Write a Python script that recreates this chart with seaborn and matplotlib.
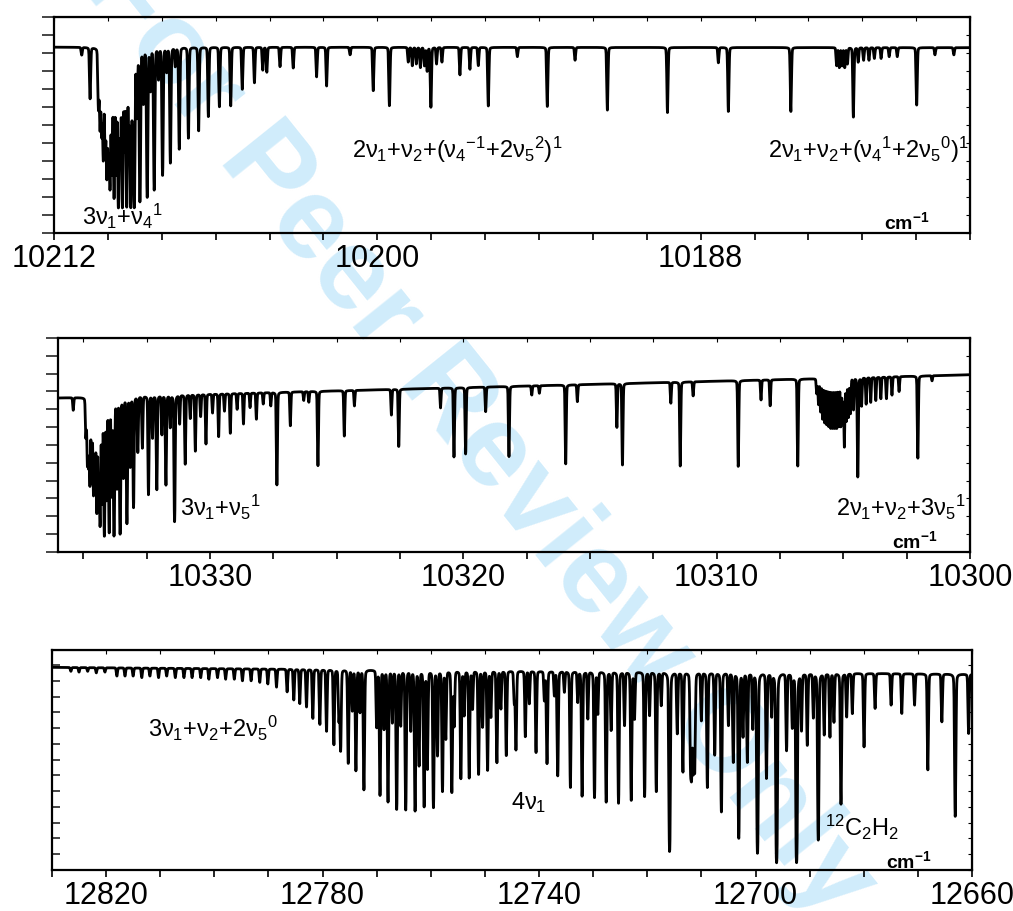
import numpy as np
import pandas as pd
import matplotlib
matplotlib.use("Agg")
import matplotlib.pyplot as plt
from matplotlib.ticker import MultipleLocator, NullFormatter
import seaborn as sns

# ---- panel 1 : 10212 - 10178 cm-1 (line centre, transmission level at line bottom)
nu_p1 = [10210.97, 10210.66, 10210.35, 10210.29, 10210.23, 10210.17, 10210.10, 10210.04,
         10209.98, 10209.92, 10209.85, 10209.77, 10209.69, 10209.61, 10209.54, 10209.46,
         10209.38, 10209.30, 10209.22, 10209.15, 10209.08, 10209.02, 10208.92, 10208.81,
         10208.68, 10208.54, 10208.42, 10208.28, 10208.12, 10207.97, 10207.82, 10207.68,
         10207.50, 10207.35, 10207.01, 10206.63, 10206.27, 10205.86, 10205.44, 10205.01,
         10204.56, 10204.25, 10204.10, 10203.61, 10203.12, 10202.25, 10201.88, 10201.01,
         10200.15, 10199.55, 10198.85, 10198.70, 10198.55, 10198.40, 10198.25, 10198.15,
         10198.01, 10197.80, 10197.60, 10196.93, 10196.56, 10196.25, 10195.88, 10194.80,
         10193.69, 10192.66, 10191.46, 10189.23, 10187.34, 10186.97, 10184.65, 10182.95,
         10182.85, 10182.75, 10182.65, 10182.55, 10182.33, 10182.15, 10181.95, 10181.75,
         10181.55, 10181.30, 10181.00, 10180.70, 10179.98, 10179.30, 10178.60]
lev_p1 = [9.9, 7.48, 7.0, 5.9, 5.6, 4.2, 4.6, 3.2,
          3.8, 2.57, 3.4, 2.0, 3.4, 1.46, 4.0, 1.46,
          4.8, 1.5, 5.4, 1.46, 6.0, 1.46, 6.6, 1.74,
          7.3, 2.0, 8.0, 2.4, 8.6, 3.2, 9.0, 3.9,
          9.3, 4.65, 5.26, 5.67, 6.46, 7.02, 7.07, 7.98,
          8.35, 9.05, 8.94, 9.24, 9.17, 8.67, 8.17, 9.9,
          7.9, 7.06, 9.5, 9.3, 9.4, 9.2, 9.3, 9.0,
          6.98, 9.4, 9.5, 8.78, 9.1, 9.3, 7.06, 9.8,
          7.02, 9.6, 6.83, 6.68, 9.46, 6.74, 6.74, 9.3,
          9.2, 9.3, 9.2, 9.4, 6.43, 9.5, 9.6, 9.6,
          9.7, 9.7, 9.8, 9.8, 7.11, 9.9, 9.9]
cont_p1 = [10.33, 10.30]

# ---- panel 2 : 10336 - 10300 cm-1
nu_p2 = [10335.40, 10334.90, 10334.84, 10334.79, 10334.74, 10334.67, 10334.60, 10334.54,
         10334.47, 10334.40, 10334.34, 10334.26, 10334.17, 10334.08, 10333.98, 10333.88,
         10333.79, 10333.67, 10333.55, 10333.42, 10333.28, 10333.15, 10333.02, 10332.85,
         10332.67, 10332.43, 10332.27, 10332.10, 10331.90, 10331.74, 10331.57, 10331.40,
         10331.20, 10330.98, 10330.78, 10330.58, 10330.37, 10330.16, 10329.90, 10329.66,
         10329.43, 10329.20, 10328.93, 10328.68, 10328.42, 10328.17, 10327.90, 10327.60,
         10327.36, 10326.83, 10326.30, 10326.10, 10325.74, 10324.70, 10324.30, 10322.84,
         10322.55, 10320.90, 10320.37, 10319.91, 10319.12, 10318.20, 10317.30, 10317.00,
         10315.96, 10315.50, 10313.94, 10313.72, 10311.81, 10311.44, 10310.93, 10309.15,
         10308.25, 10307.89, 10306.80, 10306.05, 10305.98, 10305.90, 10305.82, 10305.74,
         10305.66, 10305.58, 10305.50, 10305.42, 10305.34, 10305.26, 10305.18, 10305.10,
         10305.03, 10304.96, 10304.88, 10304.80, 10304.72, 10304.60, 10304.43, 10304.28,
         10304.10, 10303.92, 10303.72, 10303.52, 10303.30, 10303.08, 10302.80, 10302.06,
         10301.50]
lev_p2 = [7.96, 6.5, 4.99, 5.0, 3.87, 4.0, 3.3, 3.5,
          2.24, 3.0, 1.5, 2.8, 0.9, 3.0, 1.1, 3.2,
          0.9, 3.6, 1.0, 4.2, 1.6, 4.8, 2.5, 5.6,
          5.83, 3.2, 6.4, 3.5, 6.6, 3.76, 7.0, 1.7,
          7.2, 4.93, 7.5, 5.66, 7.6, 6.06, 7.8, 6.47,
          7.9, 6.66, 8.0, 7.18, 8.1, 7.44, 8.3, 8.2,
          3.76, 7.07, 8.5, 8.4, 4.84, 6.5, 8.19, 7.68,
          5.9, 8.08, 5.31, 5.48, 7.87, 5.35, 8.8, 8.9,
          4.94, 8.43, 6.99, 4.88, 8.34, 4.82, 8.75, 4.78,
          8.52, 8.19, 4.82, 8.9, 8.3, 7.9, 7.5, 7.3,
          7.2, 7.1, 7.0, 7.0, 7.0, 7.0, 7.1, 7.1,
          7.3, 5.94, 7.4, 7.6, 7.8, 8.0, 4.19, 8.2,
          8.3, 8.4, 8.5, 8.6, 8.6, 8.8, 9.0, 5.26,
          9.6]
cont_p2 = [8.64, 9.94]

# ---- panel 3 : 12830 - 12660 cm-1
nu_p3 = [12826.5, 12825.0, 12823.4, 12821.8, 12820.2,
         12818.0, 12816.5, 12815.0, 12813.4, 12811.9, 12810.3, 12808.8, 12807.2,
         12805.6, 12804.1, 12802.5, 12801.0, 12799.4, 12797.9, 12796.3, 12794.8,
         12793.2, 12791.6, 12790.1, 12788.5,
         12786.54, 12785.31, 12784.20, 12782.96, 12781.79, 12780.49, 12779.26, 12777.90,
         12776.97, 12776.66, 12775.25, 12774.50, 12773.83, 12773.08, 12772.35, 12770.00,
         12769.38, 12768.64, 12767.90, 12767.10, 12766.30, 12765.55, 12764.63, 12763.70,
         12762.90, 12762.16, 12761.23, 12760.62, 12759.51, 12758.76, 12757.84, 12757.22,
         12756.11, 12755.68, 12754.44, 12753.83, 12752.90, 12752.28, 12751.17, 12750.43,
         12749.50, 12748.89, 12747.78, 12747.04, 12746.05, 12744.57, 12744.26, 12742.53,
         12741.79, 12740.55, 12739.01, 12738.52, 12737.16, 12736.54, 12735.31, 12734.20,
         12732.84, 12732.04, 12730.98, 12729.75, 12729.13, 12727.59, 12726.67, 12725.31,
         12724.20, 12722.96, 12722.35, 12720.49, 12719.57, 12718.33, 12717.41, 12715.87,
         12714.45, 12713.40, 12712.00, 12711.80, 12711.50, 12711.23, 12710.00, 12708.89,
         12707.53, 12706.30, 12705.00, 12704.10, 12703.09, 12702.30, 12701.50, 12700.50,
         12699.63, 12697.97, 12697.00, 12696.10, 12694.26, 12693.20, 12692.41, 12691.50,
         12690.43, 12689.30, 12688.40, 12687.30, 12686.24, 12685.50, 12684.20, 12683.15,
         12682.10, 12679.94, 12677.90, 12674.94, 12672.96, 12670.60, 12668.15, 12665.56,
         12663.09, 12660.62]
lev_p3 = [12.6, 12.55, 12.6, 12.5, 12.55,
          12.3, 12.3, 12.3, 12.2, 12.3, 12.2, 12.3, 12.2,
          12.2, 12.2, 12.2, 12.1, 12.2, 12.1, 12.1, 12.0,
          12.0, 11.9, 11.8, 11.6,
          11.30, 10.78, 10.56, 10.35, 9.61, 9.23, 8.81, 7.96,
          9.51, 7.60, 6.76, 10.14, 6.29, 10.04, 5.07, 9.08,
          4.75, 8.98, 4.33, 9.40, 3.86, 9.19, 3.80, 8.87,
          3.76, 6.65, 4.01, 6.44, 3.95, 7.29, 5.00, 8.35,
          4.92, 9.19, 5.81, 9.83, 5.85, 10.25, 6.06, 9.08,
          6.34, 9.72, 6.82, 10.25, 7.25, 10.67, 7.65, 8.45,
          10.56, 7.44, 10.78, 6.76, 11.09, 5.98, 11.30, 5.24,
          10.67, 4.69, 9.61, 4.58, 9.93, 4.29, 8.87, 4.22,
          9.19, 4.43, 9.61, 4.64, 9.82, 4.96, 10.46, 1.16,
          8.66, 6.23, 6.8, 6.5, 6.4, 6.38, 9.5, 5.22,
          7.29, 3.69, 9.2, 6.86, 2.0, 8.5, 6.86, 9.0,
          1.05, 5.81, 9.8, 0.46, 7.6, 9.1, 0.46, 8.9,
          7.92, 9.7, 1.9, 8.6, 8.45, 9.4, 4.18, 9.72,
          9.93, 7.81, 10.25, 10.46, 9.93, 10.46, 6.33, 9.4,
          3.38, 8.66]
cont_p3 = [12.85, 12.42]


def synth_spectrum(lo, hi, step, centres, levels, cont, hwhm, eta=0.15):
    """Build a transmission trace from a list of line centres and bottom levels."""
    nu = np.arange(lo, hi + step, step)
    c_hi, c_lo = cont
    base = c_hi + (c_lo - c_hi) * (hi - nu) / (hi - lo)
    centres = np.asarray(centres)
    levels = np.asarray(levels)
    base_at_line = c_hi + (c_lo - c_hi) * (hi - centres) / (hi - lo)
    k = np.log(base_at_line / levels)
    d = (nu[:, None] - centres[None, :]) / hwhm
    prof = eta / (1 + d ** 2) + (1 - eta) * np.exp(-np.log(2) * d ** 2)
    tau = (prof * k[None, :]).sum(axis=1)
    return pd.DataFrame({"nu": nu, "T": base * np.exp(-tau)})


def style_axis(ax, xlim, ylim, major, minor, ytop, offset=0.0, yin=False):
    ax.set_facecolor("none")
    ax.set_xlim(*xlim)
    ax.set_ylim(*ylim)
    ax.xaxis.set_major_locator(MultipleLocator(major, offset=offset))
    ax.xaxis.set_minor_locator(MultipleLocator(minor, offset=offset))
    ax.set_yticks(np.arange(0, ytop + 1))
    ax.set_yticklabels([])
    ax.tick_params(axis="x", which="both", direction="out", length=5, width=1.2,
                   labelsize=22, pad=3, colors="black")
    if yin:
        ax.tick_params(axis="y", direction="in", length=6, width=1.2)
    else:
        ax.tick_params(axis="y", direction="out", length=9, width=1.2)
    ax.set_xlabel("")
    ax.set_ylabel("")
    for s in ax.spines.values():
        s.set_linewidth(1.6)
        s.set_color("black")
        s.set_visible(True)

    # faint inward ticks on the right and top frame
    right = ax.secondary_yaxis("right")
    right.set_yticks(np.arange(0, ytop + 1))
    right.yaxis.set_major_formatter(NullFormatter())
    right.tick_params(direction="in", length=3, width=0.8, colors="black")
    top = ax.secondary_xaxis("top")
    top.xaxis.set_major_locator(MultipleLocator(minor, offset=offset))
    top.xaxis.set_major_formatter(NullFormatter())
    top.tick_params(direction="in", length=3, width=0.8, colors="black")


def main():
    sns.set_style("ticks")
    plt.rcParams["font.family"] = ["Liberation Sans", "DejaVu Sans"]
    plt.rcParams["text.color"] = "black"
    plt.rcParams["mathtext.fontset"] = "custom"
    plt.rcParams["mathtext.rm"] = "Liberation Sans"
    plt.rcParams["mathtext.it"] = "Liberation Sans"
    plt.rcParams["mathtext.bf"] = "Liberation Sans:bold"

    fig = plt.figure(figsize=(10.13, 9.11), dpi=100)
    ax1 = fig.add_axes([0.0533, 0.7442, 0.9043, 0.2371])
    ax2 = fig.add_axes([0.0573, 0.3941, 0.9003, 0.2349])
    ax3 = fig.add_axes([0.0513, 0.0450, 0.9082, 0.2415])

    # watermark behind the traces
    fig.text(0.472, 0.522, "For Peer Review Only", rotation=-51.3, fontsize=84,
             fontweight="bold", color="#d0ecfb", ha="center", va="center", zorder=-5)

    sp1 = synth_spectrum(10178, 10212, 0.004, nu_p1, lev_p1, cont_p1, 0.024)
    sp2 = synth_spectrum(10300, 10336, 0.004, nu_p2, lev_p2, cont_p2, 0.022)
    sp3 = synth_spectrum(12660, 12830, 0.02, nu_p3, lev_p3, cont_p3, 0.12)

    for ax, sp in [(ax1, sp1), (ax2, sp2), (ax3, sp3)]:
        sns.lineplot(data=sp, x="nu", y="T", ax=ax, color="black", linewidth=2.0,
                     estimator=None, sort=False)

    style_axis(ax1, (10212, 10178), (0, 12), 12, 2, 12)
    style_axis(ax2, (10336, 10300), (0, 12), 10, 2.5, 12)
    style_axis(ax3, (12830, 12660), (0, 13.95), 40, 10, 13, offset=20, yin=True)

    fs = 17
    ax1.text(10210.96, 0.9, r"$3\nu_1{+}\nu_4{}^1$", fontsize=fs, va="center")
    ax1.text(10200.94, 4.6, r"$2\nu_1{+}\nu_2{+}(\nu_4{}^{-1}{+}2\nu_5{}^2)^1$",
             fontsize=fs, va="center")
    ax1.text(10178.05, 4.6, r"$2\nu_1{+}\nu_2{+}(\nu_4{}^1{+}2\nu_5{}^0)^1$",
             fontsize=fs, va="center", ha="right")
    ax2.text(10331.18, 2.52, r"$3\nu_1{+}\nu_5{}^1$", fontsize=fs, va="center")
    ax2.text(10305.29, 2.52, r"$2\nu_1{+}\nu_2{+}3\nu_5{}^1$", fontsize=fs, va="center")
    ax3.text(12812.2, 9.0, r"$3\nu_1{+}\nu_2{+}2\nu_5{}^0$", fontsize=fs, va="center")
    ax3.text(12745.2, 4.3, r"$4\nu_1$", fontsize=fs, va="center")
    ax3.text(12687.2, 2.7, r"$^{12}$C$_2$H$_2$", fontsize=fs, va="center")

    unit = r"$\mathbf{cm}^{\mathbf{-1}}$"
    ax1.text(10180.34, 0.6, unit, fontsize=14, ha="center", va="center")
    ax2.text(10302.2, 0.6, unit, fontsize=14, ha="center", va="center")
    ax3.text(12671.7, 0.55, unit, fontsize=14, ha="center", va="center")

    fig.savefig("out.png", dpi=100)


if __name__ == "__main__":
    main()
